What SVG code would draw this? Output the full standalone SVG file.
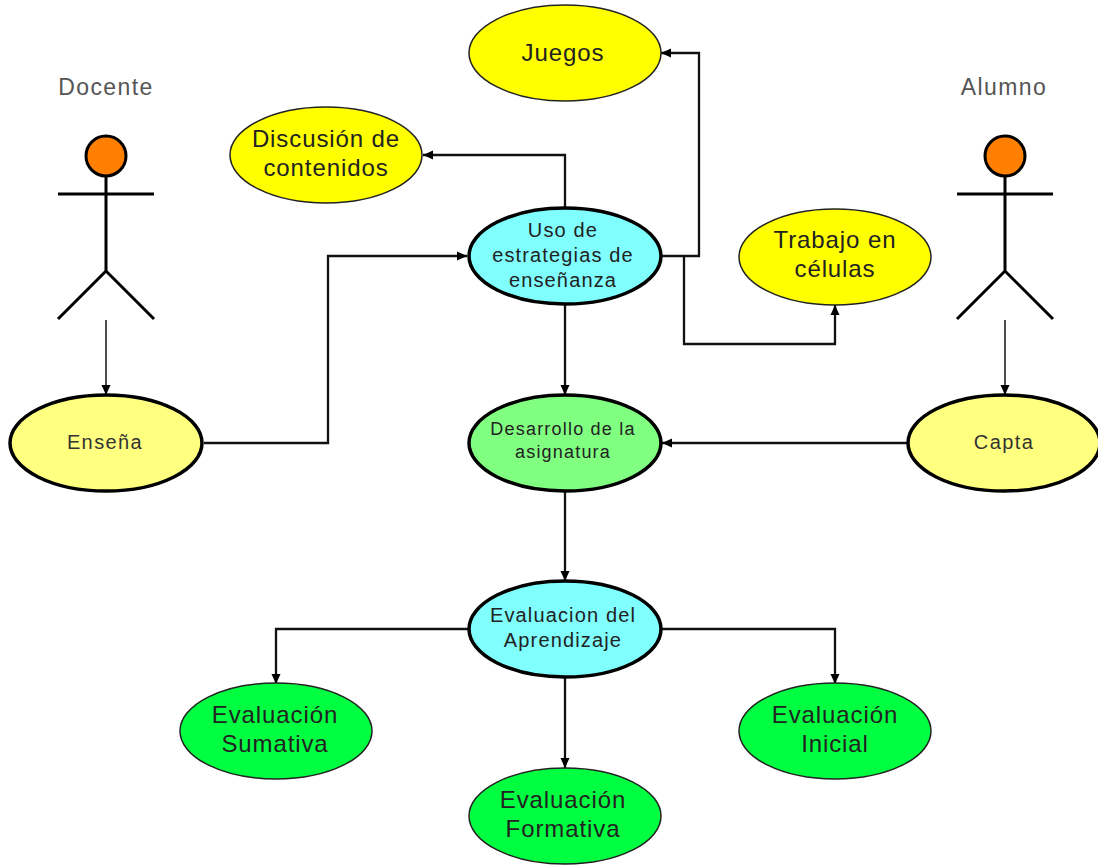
<svg xmlns="http://www.w3.org/2000/svg" width="1098" height="865" viewBox="0 0 1098 865">
<style>
text{font-family:"Liberation Sans",Arial,sans-serif;fill:#222;text-anchor:middle}
.l{font-size:24px;letter-spacing:.9px}.m{font-size:20px;letter-spacing:1.15px}.s{font-size:18px;letter-spacing:1.2px}.b{font-size:20px;letter-spacing:1.4px;fill:#333}.a{font-size:23px;letter-spacing:1.4px;fill:#555}
.y{fill:#ffff00;stroke:#222;stroke-width:1.5}
.g{fill:#00ff40;stroke:#222;stroke-width:1.5}
.ly{fill:#ffff80;stroke:#000;stroke-width:3.5}
.c{fill:#80ffff;stroke:#000;stroke-width:3.5}
.lg{fill:#80ff80;stroke:#000;stroke-width:3.5}
.w{fill:none;stroke:#000;stroke-width:3}
.k{fill:none;stroke:#111;stroke-width:2.3}
.t{fill:none;stroke:#222;stroke-width:1.6}
</style>
<defs><marker id="ah" markerUnits="userSpaceOnUse" markerWidth="11" markerHeight="11" refX="10" refY="5" orient="auto"><path d="M0 0.5L10 5L0 9.5Z" fill="#000"/></marker></defs>
<g id="connectors">
<path class="t" marker-end="url(#ah)" d="M106 320V395"/>
<path class="t" marker-end="url(#ah)" d="M1005 320V395"/>
<path class="k" marker-end="url(#ah)" d="M204 443H328V256H467"/>
<path class="k" marker-end="url(#ah)" d="M565 208V155H423"/>
<path class="k" marker-end="url(#ah)" d="M661 256H699V53H661"/>
<path class="k" marker-end="url(#ah)" d="M684 256V344H835V305"/>
<path class="k" marker-end="url(#ah)" d="M565 304V395"/>
<path class="k" marker-end="url(#ah)" d="M908 443H662"/>
<path class="k" marker-end="url(#ah)" d="M565 491V581"/>
<path class="k" marker-end="url(#ah)" d="M468 629H276V684"/>
<path class="k" marker-end="url(#ah)" d="M661 629H835V684"/>
<path class="k" marker-end="url(#ah)" d="M565 677V768"/>
</g>
<g id="docente"><text class="a" x="106" y="95">Docente</text><circle cx="106" cy="156" r="20" fill="#ff8000" stroke="#000" stroke-width="3"/><path class="w" d="M106 176V271M58 194H154M58 319L106 271L154 319"/></g>
<g id="alumno"><text class="a" x="1004" y="95">Alumno</text><circle cx="1005" cy="156" r="20" fill="#ff8000" stroke="#000" stroke-width="3"/><path class="w" d="M1005 176V271M957 194H1053M957 319L1005 271L1053 319"/></g>
<g id="juegos"><ellipse class="y" cx="565" cy="53" rx="96" ry="48"/><text class="l" x="563" y="61">Juegos</text></g>
<g id="discusion"><ellipse class="y" cx="326" cy="155" rx="96" ry="48"/><text class="l" x="326" y="147">Discusión de</text><text class="l" x="326" y="176">contenidos</text></g>
<g id="trabajo"><ellipse class="y" cx="835" cy="257" rx="96" ry="48"/><text class="l" x="835" y="248">Trabajo en</text><text class="l" x="835" y="277">células</text></g>
<g id="uso"><ellipse class="c" cx="565" cy="256" rx="96" ry="48"/><text class="m" x="563" y="237">Uso de</text><text class="m" x="563" y="262">estrategias de</text><text class="m" x="563" y="287">enseñanza</text></g>
<g id="ensena"><ellipse class="ly" cx="106" cy="443" rx="96" ry="48"/><text class="b" x="105" y="449">Enseña</text></g>
<g id="capta"><ellipse class="ly" cx="1004" cy="443" rx="96" ry="48"/><text class="b" x="1004" y="449">Capta</text></g>
<g id="desarrollo"><ellipse class="lg" cx="565" cy="443" rx="96" ry="48"/><text class="s" x="563" y="435">Desarrollo de la</text><text class="s" x="563" y="458">asignatura</text></g>
<g id="evaluacion"><ellipse class="c" cx="565" cy="629" rx="96" ry="48"/><text class="m" x="563" y="622">Evaluacion del</text><text class="m" x="563" y="647">Aprendizaje</text></g>
<g id="sumativa"><ellipse class="g" cx="276" cy="731" rx="96" ry="48"/><text class="l" x="275" y="723">Evaluación</text><text class="l" x="275" y="752">Sumativa</text></g>
<g id="inicial"><ellipse class="g" cx="835" cy="731" rx="96" ry="48"/><text class="l" x="835" y="723">Evaluación</text><text class="l" x="835" y="752">Inicial</text></g>
<g id="formativa"><ellipse class="g" cx="565" cy="816" rx="96" ry="48"/><text class="l" x="563" y="808">Evaluación</text><text class="l" x="563" y="837">Formativa</text></g>
</svg>
